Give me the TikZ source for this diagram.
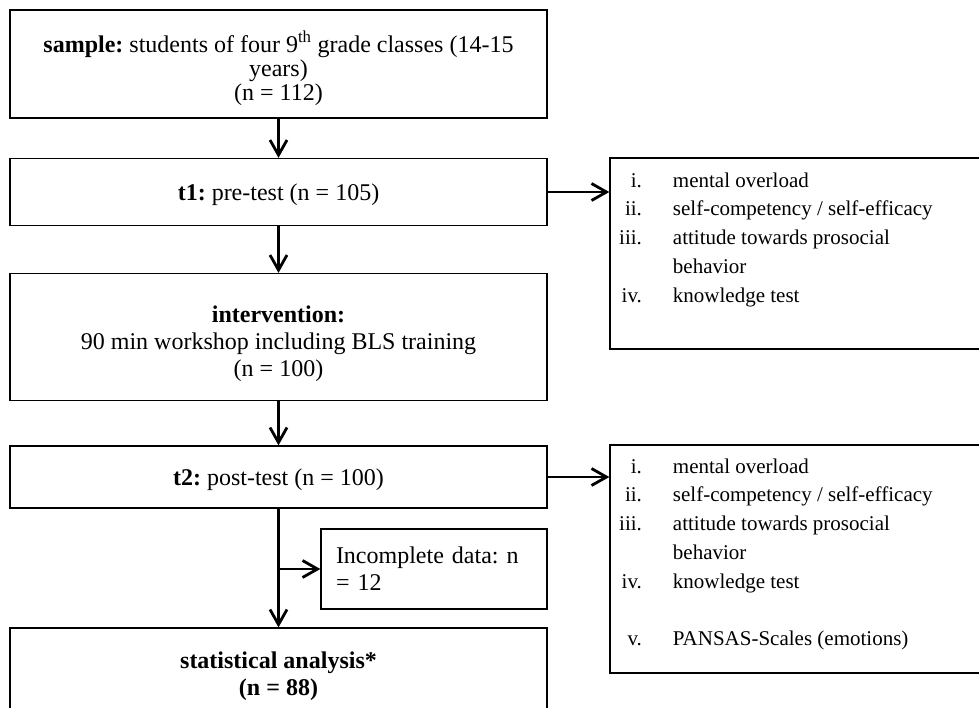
\documentclass[tikz,border=0pt]{standalone}
\usepackage{fontspec}
\setmainfont{Liberation Serif}
\usetikzlibrary{arrows.meta}

\begin{document}
\begin{tikzpicture}[x=1pt,y=-1pt]

\tikzset{box/.style = {shape=rectangle,draw,line width=1.3pt,minimum width=537pt,inner sep=0pt,text depth=0pt,align=center,font=\fontsize{24}{27}\selectfont\frenchspacing}}
\tikzset{edge/.style = {-{Straight Barb[length=15pt,width=17pt]},line width=2.8pt}}
\tikzset{items/.style = {inner sep=0pt,anchor=base west,font=\fontsize{21}{28.75}\selectfont\frenchspacing}}

\useasboundingbox (0,0) rectangle (979,707);
\clip (0,0) rectangle (979,707);
%boxes
\node[box, minimum height=108pt, font=\fontsize{24}{24}\selectfont\frenchspacing] (sample) at (278.5,64) {\rule{0pt}{24pt}\textbf{sample:} students of four 9\textsuperscript{th} grade classes (14-15\\years)\\(n = 112)};
\node[box, minimum height=67pt] (pre) at (278.5,192) {\textbf{t1:} pre-test (n = 105)};
\node[box, minimum height=127pt] (interv) at (278.5,337) {\rule{0pt}{24pt}\textbf{intervention:}\\90 min workshop including BLS training\\(n = 100)};
\node[box, minimum height=62pt] (post) at (278.5,477) {\textbf{t2:} post-test (n = 100)};
\node[box, minimum width=226pt, minimum height=80pt, text width=196pt, text depth={}, align=left] (incomplete) at (434,569) {Incomplete data: n\\= 12};
\node[box, minimum height=92pt] (stat) at (278.5,674) {\textbf{statistical analysis*}\\\textbf{(n = 88)}};
%lists
\node[box, minimum width=380pt, minimum height=191pt] (list1) at (800,253.5) {};
\node[items] (items1) at (619,187) {\begin{tabular}[t]{@{}r@{\hspace{31pt}}l@{}}
i. & mental overload\\
ii. & self-competency / self-efficacy\\
iii. & attitude towards prosocial\\
 & behavior\\
iv. & knowledge test
\end{tabular}};
\node[box, minimum width=380pt, minimum height=228pt] (list2) at (800,559) {};
\node[items] (items2) at (619,473) {\begin{tabular}[t]{@{}r@{\hspace{31pt}}l@{}}
i. & mental overload\\
ii. & self-competency / self-efficacy\\
iii. & attitude towards prosocial\\
 & behavior\\
iv. & knowledge test\\
 & \\
v. & PANSAS-Scales (emotions)
\end{tabular}};
%edges
\draw [edge] (sample) -- (pre);
\draw [edge] (pre) -- (interv);
\draw [edge] (interv) -- (post);
\draw [edge] (post) -- (stat);
\draw [edge] (pre.east) -- (pre.east -| list1.west);
\draw [edge] (post.east) -- (post.east -| list2.west);
\coordinate (split) at (post.south |- incomplete.west);
\draw [edge] (split) -- (incomplete.west);

\end{tikzpicture}
\end{document}
